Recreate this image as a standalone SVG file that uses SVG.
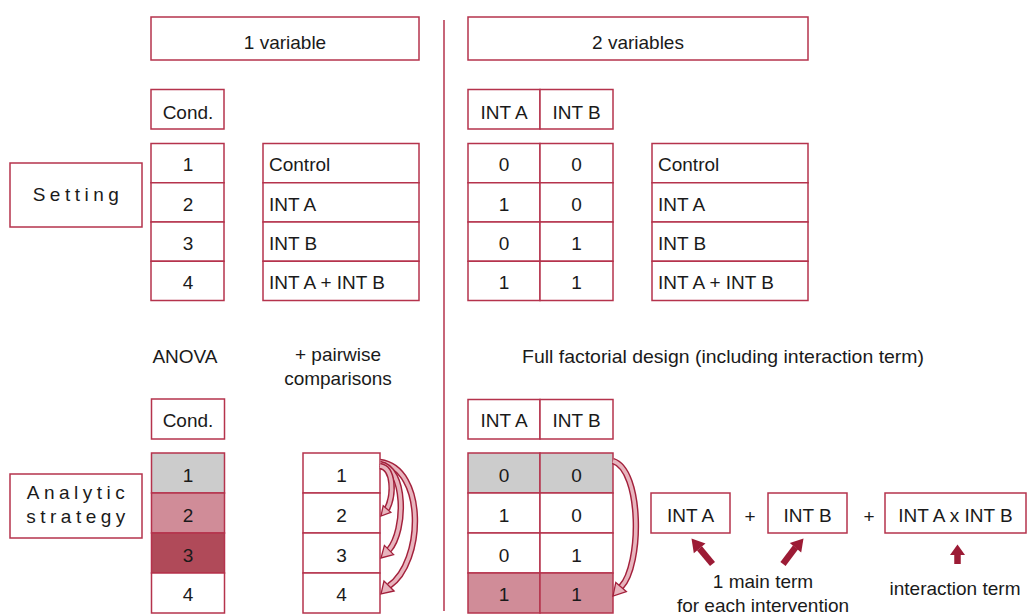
<svg xmlns="http://www.w3.org/2000/svg" width="1027" height="614" viewBox="0 0 1027 614">
<style>
.box{fill:#ffffff;stroke:#b5334c;stroke-width:1.5}
.g{fill:#cccccc}
.p{fill:#d08c98}
.d{fill:#b04a59}
.t{font-family:"Liberation Sans",Arial,sans-serif;font-size:19px;fill:#1a1a1a}
.c{text-anchor:middle}
.sp{letter-spacing:4.5px}
.band{fill:none;stroke:#a3213c;stroke-width:6.5}
.bandin{fill:none;stroke:#e8b5be;stroke-width:3.6}
.head{fill:#e8b5be;stroke:#a3213c;stroke-width:1.3;stroke-linejoin:miter}
.thick{fill:none;stroke:#9c1b35;stroke-width:6.5}
.thead{fill:#9c1b35}
</style>
<rect width="1027" height="614" fill="#ffffff"/>

<line x1="444" y1="20" x2="444" y2="611" stroke="#b5334c" stroke-width="1.5"/>

<g id="hdr-1var">
<rect class="box" x="151" y="17" width="268" height="43"/>
<text class="t c" x="285" y="49">1 variable</text>
</g>
<g id="hdr-2var">
<rect class="box" x="468" y="17" width="340" height="43"/>
<text class="t c" x="638" y="49">2 variables</text>
</g>

<g id="setting-label">
<rect class="box" x="10" y="163" width="132" height="64"/>
<text class="t c sp" x="78" y="201">Setting</text>
</g>

<g id="cond-header-top">
<rect class="box" x="151" y="89.5" width="73" height="39.5"/>
<text class="t c" x="188" y="119">Cond.</text>
</g>
<g id="cond-col-top">
<rect class="box" x="151" y="143.5" width="73" height="39.25"/>
<rect class="box" x="151" y="182.75" width="73" height="39.25"/>
<rect class="box" x="151" y="222" width="73" height="39.25"/>
<rect class="box" x="151" y="261.25" width="73" height="39.25"/>
<text class="t c" x="188" y="171">1</text>
<text class="t c" x="188" y="210.5">2</text>
<text class="t c" x="188" y="249.5">3</text>
<text class="t c" x="188" y="289">4</text>
</g>
<g id="labels-top-1var">
<rect class="box" x="263" y="143.5" width="156" height="39.25"/>
<rect class="box" x="263" y="182.75" width="156" height="39.25"/>
<rect class="box" x="263" y="222" width="156" height="39.25"/>
<rect class="box" x="263" y="261.25" width="156" height="39.25"/>
<text class="t" x="269" y="171">Control</text>
<text class="t" x="269" y="210.5">INT A</text>
<text class="t" x="269" y="249.5">INT B</text>
<text class="t" x="269" y="289">INT A + INT B</text>
</g>

<g id="int-header-top">
<rect class="box" x="468" y="89.5" width="72" height="39.5"/>
<rect class="box" x="540" y="89.5" width="73" height="39.5"/>
<text class="t c" x="504" y="119">INT A</text>
<text class="t c" x="576.5" y="119">INT B</text>
</g>
<g id="int-table-top">
<rect class="box" x="468" y="143.5" width="72" height="39.25"/>
<rect class="box" x="540" y="143.5" width="73" height="39.25"/>
<rect class="box" x="468" y="182.75" width="72" height="39.25"/>
<rect class="box" x="540" y="182.75" width="73" height="39.25"/>
<rect class="box" x="468" y="222" width="72" height="39.25"/>
<rect class="box" x="540" y="222" width="73" height="39.25"/>
<rect class="box" x="468" y="261.25" width="72" height="39.25"/>
<rect class="box" x="540" y="261.25" width="73" height="39.25"/>
<text class="t c" x="504" y="171">0</text><text class="t c" x="576.5" y="171">0</text>
<text class="t c" x="504" y="210.5">1</text><text class="t c" x="576.5" y="210.5">0</text>
<text class="t c" x="504" y="249.5">0</text><text class="t c" x="576.5" y="249.5">1</text>
<text class="t c" x="504" y="289">1</text><text class="t c" x="576.5" y="289">1</text>
</g>
<g id="labels-top-2var">
<rect class="box" x="652" y="143.5" width="156" height="39.25"/>
<rect class="box" x="652" y="182.75" width="156" height="39.25"/>
<rect class="box" x="652" y="222" width="156" height="39.25"/>
<rect class="box" x="652" y="261.25" width="156" height="39.25"/>
<text class="t" x="658" y="171">Control</text>
<text class="t" x="658" y="210.5">INT A</text>
<text class="t" x="658" y="249.5">INT B</text>
<text class="t" x="658" y="289">INT A + INT B</text>
</g>

<g id="captions">
<text class="t c" x="185" y="363">ANOVA</text>
<text class="t c" x="338" y="361">+ pairwise</text>
<text class="t c" x="338" y="385">comparisons</text>
<text class="t" x="522" y="363" textLength="402" lengthAdjust="spacingAndGlyphs">Full factorial design (including interaction term)</text>
</g>

<g id="analytic-label">
<rect class="box" x="10" y="474" width="132" height="64"/>
<text class="t c sp" x="78" y="499">Analytic</text>
<text class="t c sp" x="78" y="523">strategy</text>
</g>

<g id="cond-header-bottom">
<rect class="box" x="151.5" y="399" width="73" height="40"/>
<text class="t c" x="188" y="427">Cond.</text>
</g>
<g id="anova-col">
<rect class="box g" x="151.5" y="453" width="73" height="40"/>
<rect class="box p" x="151.5" y="493" width="73" height="40"/>
<rect class="box d" x="151.5" y="533" width="73" height="40"/>
<rect class="box" x="151.5" y="573" width="73" height="40"/>
<text class="t c" x="188" y="481.5">1</text>
<text class="t c" x="188" y="521.5">2</text>
<text class="t c" x="188" y="561.5">3</text>
<text class="t c" x="188" y="601">4</text>
</g>
<g id="pairwise-col">
<rect class="box" x="303" y="453" width="77" height="40"/>
<rect class="box" x="303" y="493" width="77" height="40"/>
<rect class="box" x="303" y="533" width="77" height="40"/>
<rect class="box" x="303" y="573" width="77" height="40"/>
<text class="t c" x="341.5" y="481.5">1</text>
<text class="t c" x="341.5" y="521.5">2</text>
<text class="t c" x="341.5" y="561.5">3</text>
<text class="t c" x="341.5" y="601">4</text>
</g>

<g id="int-header-bottom">
<rect class="box" x="468" y="399.5" width="72" height="39.5"/>
<rect class="box" x="540" y="399.5" width="73" height="39.5"/>
<text class="t c" x="504" y="427">INT A</text>
<text class="t c" x="576.5" y="427">INT B</text>
</g>
<g id="int-table-bottom">
<rect class="box g" x="468" y="453" width="72" height="40"/>
<rect class="box g" x="540" y="453" width="73" height="40"/>
<rect class="box" x="468" y="493" width="72" height="40"/>
<rect class="box" x="540" y="493" width="73" height="40"/>
<rect class="box" x="468" y="533" width="72" height="40"/>
<rect class="box" x="540" y="533" width="73" height="40"/>
<rect class="box p" x="468" y="573" width="72" height="40"/>
<rect class="box p" x="540" y="573" width="73" height="40"/>
<text class="t c" x="504" y="481.5">0</text><text class="t c" x="576.5" y="481.5">0</text>
<text class="t c" x="504" y="521.5">1</text><text class="t c" x="576.5" y="521.5">0</text>
<text class="t c" x="504" y="561.5">0</text><text class="t c" x="576.5" y="561.5">1</text>
<text class="t c" x="504" y="601">1</text><text class="t c" x="576.5" y="601">1</text>
</g>

<g id="term-inta">
<rect class="box" x="651" y="493" width="79" height="40"/>
<text class="t c" x="690.5" y="522">INT A</text>
</g>
<text class="t c" x="750" y="523">+</text>
<g id="term-intb">
<rect class="box" x="768" y="493" width="79" height="40"/>
<text class="t c" x="807.5" y="522">INT B</text>
</g>
<text class="t c" x="869" y="523">+</text>
<g id="term-interaction">
<rect class="box" x="885" y="493" width="141" height="40"/>
<text class="t c" x="955.5" y="522">INT A x INT B</text>
</g>

<g id="annotations">
<text class="t c" x="763" y="588">1 main term</text>
<text class="t c" x="763" y="612">for each intervention</text>
<text class="t c" x="955" y="595">interaction term</text>
</g>

<g id="connectors">
<!-- pairwise curved arrows -->
<path class="band" d="M380 462 C426 468 424 562 389 586"/>
<path class="bandin" d="M380 462 C426 468 424 562 389 586"/>
<polygon class="head" points="394,591 381,594 384,581"/>
<path class="band" d="M380 464 C406 468 406 530 389 550"/>
<path class="bandin" d="M380 464 C406 468 406 530 389 550"/>
<polygon class="head" points="393.6,554.6 381,558 384.4,545.4"/>
<path class="band" d="M380 466 C394 468 394 495 387 509"/>
<path class="bandin" d="M380 466 C394 468 394 495 387 509"/>
<polygon class="head" points="390.8,512.3 381,516 383.2,505.7"/>
<!-- factorial curved arrow -->
<path class="band" d="M613 461 C642 470 642 565 621 587"/>
<path class="bandin" d="M613 461 C642 470 642 565 621 587"/>
<polygon class="head" points="626.3,591.6 613,596 615.8,582.4"/>
<!-- thick arrows -->
<line class="thick" x1="712.5" y1="564" x2="699.5" y2="548.4"/>
<polygon class="thead" points="705.5,543.6 691.5,538.5 693.8,553.2"/>
<line class="thick" x1="783" y1="564" x2="795.5" y2="547.4"/>
<polygon class="thead" points="801.2,552.4 803.5,538.5 789.8,543"/>
<line class="thick" x1="957.5" y1="564" x2="957.5" y2="553"/>
<polygon class="thead" points="950,555 957.5,544.5 965,555"/>
</g>
</svg>
